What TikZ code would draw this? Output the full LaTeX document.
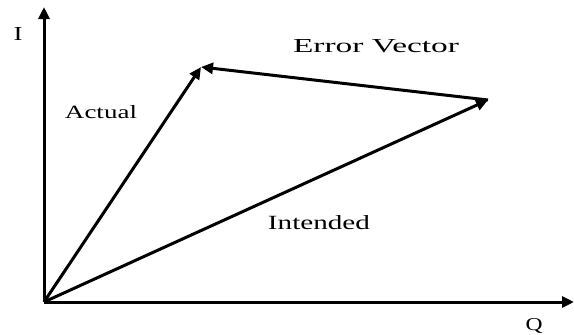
\documentclass[tikz,border=0pt]{standalone}
\usepackage{fontspec}
\usepackage{graphicx}
\setmainfont{Liberation Serif}
\usetikzlibrary{arrows.meta}
\begin{document}
\begin{tikzpicture}[x=1pt,y=-1pt,
  vec/.style={line width=3pt,-{Triangle[length=12pt,width=11pt]}},
  lbl/.style={font=\fontsize{17}{19}\selectfont,inner sep=0pt}]
\useasboundingbox (0,0) rectangle (574,335);
\coordinate (O) at (44,302);
\coordinate (Itip) at (44,7);
\coordinate (Qtip) at (574,302);
\coordinate (A) at (201,67);
\coordinate (B) at (488,100);
\draw[vec] (O) -- (Itip);
\draw[vec] (O) -- (Qtip);
\draw[vec] (O) -- (A);
\draw[vec] (O) -- (B);
\draw[vec] (B) -- (A);
\node[lbl] (Ilbl) at (18,34) {\resizebox{9pt}{13pt}{I}};
\node[lbl,anchor=base] (Qlbl) at (534,330) {\resizebox{17pt}{12pt}{Q}};
\node[lbl] (act) at (101,112.5) {\resizebox{72pt}{13pt}{Actual}};
\node[lbl] (err) at (376,46.5) {\resizebox{166pt}{13pt}{Error Vector}};
\node[lbl] (int) at (319,222.5) {\resizebox{102pt}{14pt}{Intended}};
\end{tikzpicture}
\end{document}
